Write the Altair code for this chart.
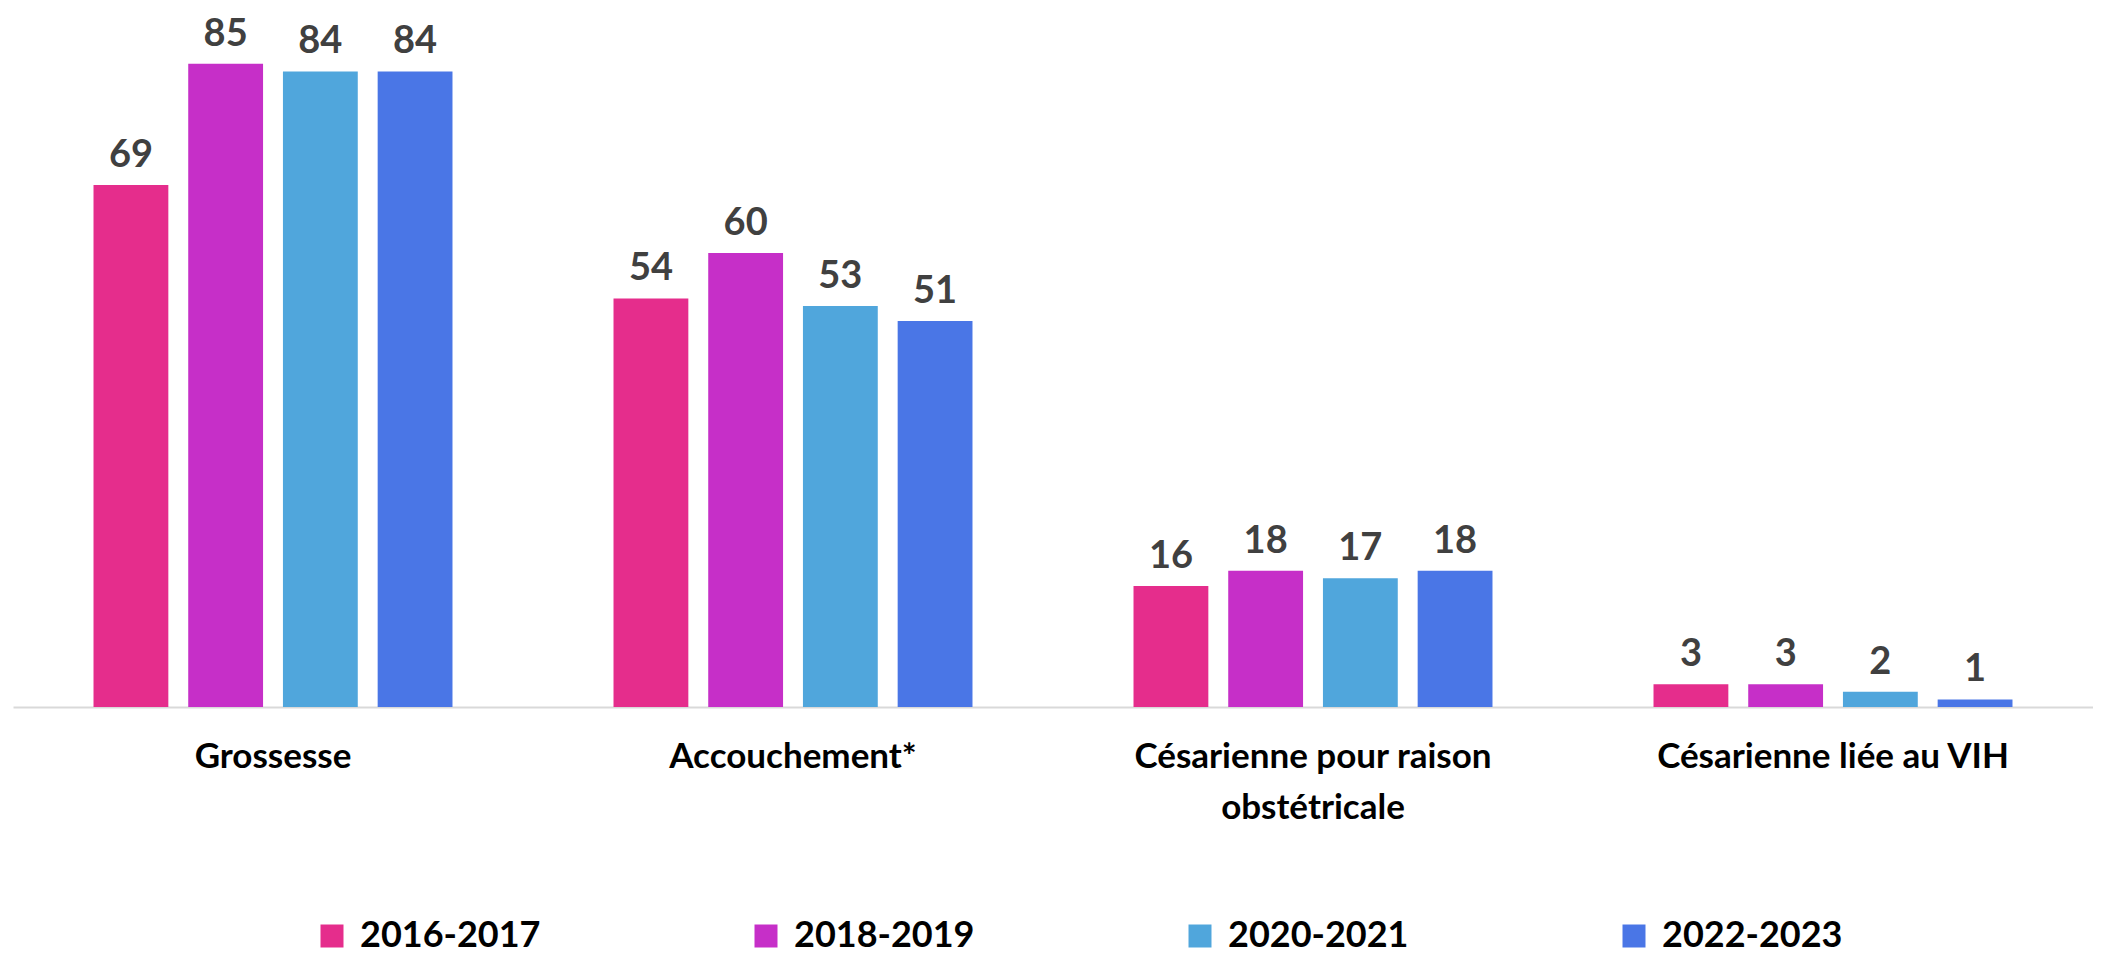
import altair as alt
import pandas as pd

categories = ["Grossesse", "Accouchement*", "Césarienne pour raison\nobstétricale", "Césarienne liée au VIH"]
periods = ["2016-2017", "2018-2019", "2020-2021", "2022-2023"]
v_2016 = [69, 54, 16, 3]
v_2018 = [85, 60, 18, 3]
v_2020 = [84, 53, 17, 2]
v_2022 = [84, 51, 18, 1]
colors = ["#E52D8C", "#C62FC8", "#50A6DC", "#4A76E6"]

rows = []
for p, vals in zip(periods, [v_2016, v_2018, v_2020, v_2022]):
    for c, v in zip(categories, vals):
        rows.append({"cat": c, "period": p, "value": v})
df = pd.DataFrame(rows)

FONT = "Lato"

base = alt.Chart(df).encode(
    x=alt.X("cat:N", sort=categories, title=None,
            scale=alt.Scale(paddingInner=0, paddingOuter=0),
            axis=alt.Axis(labelAngle=0, ticks=False, domain=True, domainColor="#D9D9D9",
                          domainWidth=2, labelFont=FONT, labelFontSize=35, labelFontWeight="bold",
                          labelColor="#000000", labelPadding=32, labelLimit=700,
                          labelLineHeight=51, labelBaseline="top",
                          labelExpr="split(datum.label, '\\n')")),
    xOffset=alt.XOffset("period:N", sort=periods,
                        scale=alt.Scale(paddingInner=0.21, paddingOuter=0.85)),
)

bars = base.mark_bar().encode(
    y=alt.Y("value:Q", scale=alt.Scale(domain=[0, 90]), axis=None),
    color=alt.Color("period:N", sort=periods,
                    scale=alt.Scale(domain=periods, range=colors),
                    legend=alt.Legend(title=None, orient="none", direction="horizontal",
                                      legendX=301, legendY=892, columns=4,
                                      columnPadding=207, padding=0,
                                      symbolType="square", symbolSize=529,
                                      symbolStrokeWidth=0, symbolOpacity=1,
                                      labelFont=FONT, labelFontSize=36, labelFontWeight="bold",
                                      labelColor="#000000", labelOffset=10, labelLimit=400)),
)

labels = base.mark_text(baseline="alphabetic", dy=-18, font=FONT, fontSize=38,
                        fontWeight="bold", color="#404040").encode(
    y=alt.Y("value:Q", scale=alt.Scale(domain=[0, 90]), axis=None),
    text=alt.Text("value:Q"),
)

chart = alt.layer(bars, labels).properties(
    width=2080, height=681,
    padding={"left": 5, "right": 0, "top": 7, "bottom": 0},
).configure_view(stroke=None).configure_axis(grid=False)

chart.save("out.html", embed_options={"renderer": "svg", "actions": False})
